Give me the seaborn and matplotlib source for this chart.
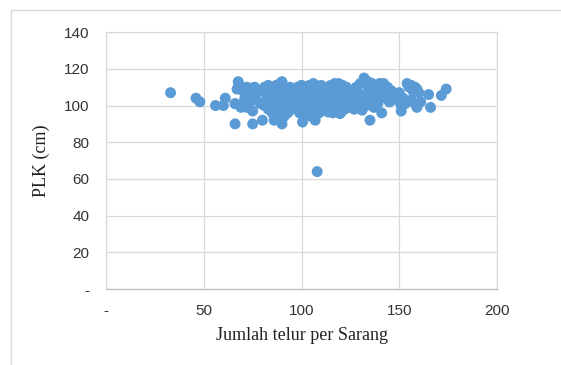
import numpy as np
import pandas as pd
import matplotlib.pyplot as plt
import seaborn as sns
from matplotlib.patches import Rectangle

# values
jumlah_telur = [
    33, 46, 48, 56, 60, 61, 66, 75, 80, 108, 100.5, 90, 107, 135, 141, 151, 159, 166,
    165, 171.5, 174, 154, 158, 132, 67.6, 90, 66, 72, 113.6, 119.6, 131, 145,
    67, 68, 70, 72, 74, 76, 78, 70, 73, 75, 77, 79, 66, 69, 71, 74,
    81, 83, 85, 87, 89, 82, 84, 86, 88, 90, 92, 94, 81, 83, 85, 87, 89, 91, 93, 95,
    82, 84, 86, 88, 90, 92, 94, 86, 88, 91, 93, 95, 96, 97,
    98, 100, 102, 104, 106, 108, 110, 97, 99, 101, 103, 105, 107, 109, 98, 100, 102, 104,
    106, 108, 110, 99, 101, 103, 105, 107, 109, 100, 103, 106, 109, 96, 104, 102,
    111, 113, 115, 117, 119, 121, 123, 112, 114, 116, 118, 120, 122, 124, 111, 113, 115, 117,
    119, 121, 123, 125, 114, 116, 118, 120, 122, 112, 124, 110, 116, 120,
    126, 128, 130, 134, 136, 138, 140, 127, 129, 131, 133, 135, 137, 139, 126, 128,
    130, 132, 134, 136, 138, 140, 127, 129, 133, 137, 139, 125, 134, 141,
    142, 144, 146, 148, 150, 143, 145, 147, 149, 152, 155, 156, 157, 159, 160, 153, 156, 158, 161, 151,
]
plk_cm = [
    107, 104, 102, 100, 100, 104, 90, 90, 92, 64, 91, 90, 92, 92, 96, 97, 99, 99,
    106, 105.5, 109, 112, 110, 115, 113, 113, 101, 99, 96.5, 95.6, 97.5, 102,
    109, 111, 108, 110, 109, 110, 108, 101, 100, 97, 103, 101, 101, 99, 104, 105,
    110, 111, 109, 111, 112, 106, 104, 103, 105, 107, 109, 110, 100, 98, 96, 93, 95, 97, 99, 101,
    102, 108, 100, 99, 102, 104, 106, 92, 97, 94, 96, 98, 104, 108,
    110, 111, 110, 111, 112, 110, 111, 103, 105, 107, 104, 106, 103, 105, 100, 98, 101, 99,
    102, 100, 103, 96, 95, 97, 94, 98, 96, 108, 109, 107, 108, 106, 102, 106,
    108, 110, 111, 112, 112, 111, 110, 105, 107, 104, 106, 108, 105, 107, 101, 103, 99, 101,
    103, 100, 102, 104, 97, 96, 98, 96, 98, 99, 99, 106, 109, 104,
    108, 110, 112, 113, 112, 111, 112, 105, 107, 104, 106, 108, 105, 107, 101, 103,
    100, 102, 104, 101, 103, 105, 98, 99, 100, 99, 101, 106, 110, 109,
    112, 110, 108, 106, 107, 104, 102, 105, 103, 104, 110, 111, 108, 109, 107, 101, 103, 101, 102, 100,
]

df = pd.DataFrame({"telur": jumlah_telur, "plk": plk_cm})

sns.set_style("white")
fig = plt.figure(figsize=(5.61, 3.65), dpi=100)
ax = fig.add_axes([0.189, 0.208, 0.697, 0.704])

# chart area border (cropped on right and bottom)
fig.patches.append(Rectangle((11 / 561, -0.1), 1.2, 1 - 10 / 365 + 0.1,
                             transform=fig.transFigure, fill=False,
                             edgecolor="#d9d9d9", linewidth=1))

sns.scatterplot(data=df, x="telur", y="plk", ax=ax, color="#5b9bd5",
                s=62, edgecolor="none", linewidth=0, zorder=3)

ax.set_xlim(0, 200)
ax.set_ylim(0, 140)
ax.set_xticks([0, 50, 100, 150, 200])
ax.set_xticklabels(["-", "50", "100", "150", "200"])
ax.set_yticks([0, 20, 40, 60, 80, 100, 120, 140])
ax.set_yticklabels(["-", "20", "40", "60", "80", "100", "120", "140"])
ax.grid(True, color="#d9d9d9", linewidth=0.9)
ax.set_axisbelow(True)
for sp in ax.spines.values():
    sp.set_color("#d9d9d9")
    sp.set_linewidth(0.9)
ax.spines["bottom"].set_color("#bfbfbf")

ax.tick_params(axis="both", length=0, labelsize=11, labelcolor="#333333")
ax.tick_params(axis="y", pad=12)
ax.tick_params(axis="x", pad=11)
for lab in ax.get_xticklabels() + ax.get_yticklabels():
    lab.set_family("Liberation Sans")

ax.set_xlabel("Jumlah telur per Sarang", family="Liberation Serif", fontsize=13,
              color="#222222", labelpad=6)
ax.set_ylabel("PLK (cm)", family="Liberation Serif", fontsize=13,
              color="#222222", labelpad=10)

plt.savefig("out.png", dpi=100)
